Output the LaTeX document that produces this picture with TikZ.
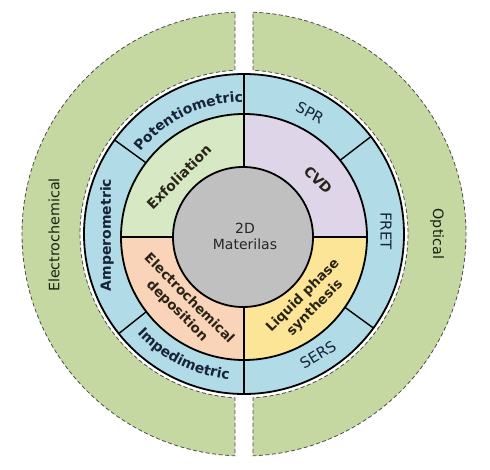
\documentclass[tikz,border=0pt]{standalone}
\usepackage{fontspec}
\setmainfont{DejaVu Sans}
\usetikzlibrary{decorations.text}
\definecolor{bandgreen}{RGB}{197,216,162}
\definecolor{ringblue}{RGB}{178,219,232}
\definecolor{qgreen}{RGB}{214,232,196}
\definecolor{qlav}{RGB}{222,214,232}
\definecolor{qpeach}{RGB}{250,212,184}
\definecolor{qyellow}{RGB}{253,229,152}
\definecolor{coregray}{RGB}{192,192,192}
\definecolor{txtdark}{RGB}{40,36,24}
\definecolor{txtblue}{RGB}{22,36,58}
\definecolor{txtgreen}{RGB}{24,32,16}
\newcommand\qfont{\fontsize{14}{17}\selectfont\bfseries}
\newcommand\qfontb{\fontsize{13.5}{17}\selectfont\bfseries}
\newcommand\rfont{\fontsize{14}{16}\selectfont\bfseries}
\newcommand\sfontx{\fontsize{15}{17}\selectfont}
\newcommand\ofont{\fontsize{14.3}{16}\selectfont}
\begin{document}
\begin{tikzpicture}[x=1pt,y=1pt,
  band/.style={fill=bandgreen, draw=gray!60!black, dash pattern=on 4pt off 2.5pt, line width=0.8pt},
  ring/.style={line width=1.8pt, draw=black},
  divider/.style={line width=1.4pt, draw=black},
  qlabel/.style={text=txtdark, font=\qfont, align=center, inner sep=0pt},
  rlabel/.style={text=txtblue, font=\rfont, inner sep=0pt},
  slabel/.style={text=txtblue, font=\sfontx, inner sep=0pt},
  olabel/.style={text=txtgreen, font=\ofont, inner sep=0pt}]
\useasboundingbox (-244,-235) rectangle (246,234);
\coordinate (O) at (0,0);
\coordinate (M) at (0,-3);
\coordinate (C) at (-1,-3);
% outer green bands
\path[band] (92.32:222) arc[start angle=92.32,end angle=267.68,radius=222]
  -- (266.85:164) arc[start angle=266.85,end angle=93.15,radius=164] -- cycle;
\path[band] (87.68:222) arc[start angle=87.68,end angle=-87.68,radius=222]
  -- (-86.85:164) arc[start angle=-86.85,end angle=86.85,radius=164] -- cycle;
% blue ring
\path[ring, fill=ringblue] (O) circle[radius=160];
\foreach \a in {90,270,37.5,144,218.5,-36} \draw[divider] (\a:105) -- (\a:160);
% middle quadrants
\fill[qgreen] (M) -- ++(90:123) arc[start angle=90,end angle=180,radius=123] -- cycle;
\fill[qlav] (M) -- ++(0:123) arc[start angle=0,end angle=90,radius=123] -- cycle;
\fill[qpeach] (M) -- ++(180:123) arc[start angle=180,end angle=270,radius=123] -- cycle;
\fill[qyellow] (M) -- ++(270:123) arc[start angle=270,end angle=360,radius=123] -- cycle;
\draw[divider] ([yshift=123pt]M) -- ([yshift=-123pt]M);
\draw[divider] ([xshift=-123pt]M) -- ([xshift=123pt]M);
\path[ring] (M) circle[radius=123];
% core
\path[ring, fill=coregray] (C) circle[radius=70];
\node[align=center, inner sep=0pt, font=\fontsize{14}{16}\selectfont, text=black!85] (core) at (1,-2) {2D\\Materilas};
% quadrant labels
\node[qlabel, rotate=45] (exf) at (-65,57) {Exfoliation};
\node[qlabel, rotate=-45] (cvd) at (74,54) {CVD};
\node[qlabel, rotate=-45, font=\qfontb] (ecd) at (-61,-71) {Electrochemical\\deposition};
\node[qlabel, rotate=45, font=\qfontb] (lps) at (65,-68) {Liquid phase\\synthesis};
% blue ring labels
\path[decorate, decoration={text along path, text align=center,
  text={|\rfont\color{txtblue}|Potentiometric}}]
  (151:132) arc[start angle=151,end angle=81,radius=132];
\path[decorate, decoration={text along path, text align=center,
  text={|\rfont\color{txtblue}|Impedimetric}}]
  (208.5:146) arc[start angle=208.5,end angle=278.5,radius=146];
\node[rlabel, rotate=90] (amp) at (-137,-1) {Amperometric};
\node[slabel, rotate=-28.6] (spr) at (66,121) {SPR};
\node[slabel, rotate=-90] (fret) at (142,3) {FRET};
\node[slabel, rotate=31.4] (sers) at (74,-121) {SERS};
% outer labels
\node[olabel, rotate=90] (ec) at (-190,-1) {Electrochemical};
\node[olabel, rotate=-90] (opt) at (193,0) {Optical};
\end{tikzpicture}
\end{document}
